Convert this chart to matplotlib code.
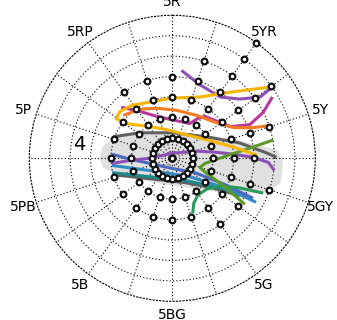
import numpy as np
import matplotlib
matplotlib.use("Agg")
import matplotlib.pyplot as plt

# hue names every 36 deg, clockwise from top
hue_labels = ["5R", "5YR", "5Y", "5GY", "5G", "5BG", "5B", "5PB", "5P", "5RP"]

# max chroma reached by the sample grid for each of the 20 hues (18 deg apart)
max_chroma = [8, 10, 14, 12, 10, 8, 10, 8, 8, 6, 6, 6, 6, 6, 6, 6, 6, 6, 8, 8]
inner_count = 24   # samples on the chroma-2 ring

# curves, given as (x, y) chroma components
gold_x = [9.7, 5.9, 2.7, 0.0, -2.2, -3.9, -5.1, -5.5, -4.5, -2.2, -0.5, 1.4, 3.4, 6.0, 8.3]
gold_y = [7.0, 6.5, 6.0, 5.9, 5.5, 5.2, 4.6, 3.9, 3.4, 3.1, 2.8, 2.3, 1.8, 1.1, 0.3]
purple_top_x = [0.9, 2.7, 4.7, 6.6, 8.6, 9.7]
purple_top_y = [8.6, 7.2, 6.0, 5.8, 6.0, 6.9]
orange_x = [-4.8, -3.2, -1.5, 0.4, 2.4, 4.0, 6.0, 7.9, 9.5]
orange_y = [4.2, 4.8, 4.9, 4.7, 4.2, 3.6, 3.0, 3.0, 3.2]
magenta_x = [-5.0, -3.2, -1.5, 0.3, 1.7, 2.5, 3.2, 4.2, 5.7, 7.6, 8.9, 9.8]
magenta_y = [5.0, 4.6, 4.1, 3.7, 3.4, 3.9, 4.1, 3.7, 3.1, 3.3, 4.5, 6.0]
gray_top_x = [-5.8, -3.2, 0.0, 3.4, 6.6, 9.3, 10.2]
gray_top_y = [2.1, 2.5, 2.5, 2.1, 1.5, 0.5, 0.1]
gray_bot_x = [-5.8, -2.2, 1.4, 4.4, 6.6]
gray_bot_y = [-1.6, -2.0, -2.4, -3.0, -3.7]
purple_x = [-5.9, -4.1, -2.2, 0.0, 2.4, 4.2, 6.0, 7.9, 9.4, 10.0]
purple_y = [-0.5, -0.2, 0.0, 0.5, 0.7, 0.6, 0.4, 0.1, -0.4, -1.2]
blue_x = [-5.9, -4.1, -2.2, 0.0, 2.2, 5.0, 7.9]
blue_y = [0.4, -0.1, -0.5, -1.0, -1.4, -2.5, -3.9]
sky_x = [-5.9, -2.2, 1.7, 5.2, 8.2]
sky_y = [-0.7, -1.2, -1.8, -2.9, -4.3]
teal_x = [-5.9, -2.2, 1.4, 4.2, 6.6]
teal_y = [-1.4, -1.8, -2.2, -2.8, -3.4]
olive_x = [9.9, 7.6, 5.2, 3.2, 2.7, 3.4, 4.9, 7.1]
olive_y = [1.8, 1.0, 0.2, -0.5, -0.9, -1.5, -2.6, -4.5]
green_x = [2.0, 2.1, 2.5, 3.4, 4.7, 6.6, 8.9]
green_y = [-5.4, -4.4, -3.6, -3.0, -2.7, -2.9, -3.4]

# shaded region outline
region_x = [-7.1, -6.8, -5.4, 0.1, 6.0, 10.3, 10.8, 10.8, 10.6, 9.3, 6.0, -0.5, -5.1, -6.8]
region_y = [0.0, 1.2, 2.2, 2.5, 1.9, 0.8, -0.2, -1.2, -2.4, -3.4, -3.5, -2.6, -1.7, -0.9]

curves = [
    (gray_top_x, gray_top_y, "#606060"),
    (gray_bot_x, gray_bot_y, "#606060"),
    (teal_x, teal_y, "#1b8a8c"),
    (sky_x, sky_y, "#2f8cc4"),
    (blue_x, blue_y, "#4a68c4"),
    (purple_x, purple_y, "#8e4fb5"),
    (green_x, green_y, "#2a9a5a"),
    (olive_x, olive_y, "#5a9a26"),
    (purple_top_x, purple_top_y, "#8e4fb5"),
    (magenta_x, magenta_y, "#b8389e"),
    (orange_x, orange_y, "#f47b20"),
    (gold_x, gold_y, "#f7b500"),
]

RMAX = 14
fig = plt.figure(figsize=(3.37, 3.2), dpi=100)
box = [0.0869, 0.0584, 0.8487, 0.8938]

# bottom: shaded region
ax_fill = fig.add_axes(box)
ax_fill.fill(region_x, region_y, color="#e0e0e0", lw=0)
ax_fill.set_xlim(-RMAX, RMAX)
ax_fill.set_ylim(-RMAX, RMAX)
ax_fill.axis("off")

# middle: polar grid
ax = fig.add_axes(box, projection="polar")
ax.patch.set_alpha(0)
ax.set_theta_zero_location("N")
ax.set_theta_direction(-1)
ax.set_ylim(0, RMAX)
ax.set_thetagrids(np.arange(0, 360, 18), labels=[])
ax.set_rgrids(np.arange(2, RMAX, 2), labels=[])
ax.grid(True, color="black", linestyle=(0, (1, 2)), linewidth=0.8)
ax.spines["polar"].set_linestyle((0, (1, 2)))
ax.spines["polar"].set_linewidth(0.8)

for i, lab in enumerate(hue_labels):
    ax.text(np.deg2rad(36 * i), 15.3, lab, ha="center", va="center",
            fontsize=10, family=["Liberation Sans Narrow", "DejaVu Sans"])

# top: curves and sample markers
ax_top = fig.add_axes(box)
ax_top.set_xlim(-RMAX, RMAX)
ax_top.set_ylim(-RMAX, RMAX)
ax_top.axis("off")

for cx, cy, col in curves:
    ax_top.plot(cx, cy, color=col, lw=2.2, solid_capstyle="butt", solid_joinstyle="round")

mx, my = [0.0], [0.0]
for k in range(inner_count):
    t = np.deg2rad(360 / inner_count * k)
    mx.append(2 * np.sin(t))
    my.append(2 * np.cos(t))
for i, cmax in enumerate(max_chroma):
    t = np.deg2rad(18 * i)
    for c in range(4, cmax + 1, 2):
        mx.append(c * np.sin(t))
        my.append(c * np.cos(t))
ax_top.plot(mx, my, "o", ms=4.1, mfc="white", mec="#111111", mew=1.6, ls="none")

ax_top.text(-9.1, 1.35, "4", ha="center", va="center", fontsize=14,
            family=["Liberation Sans Narrow", "DejaVu Sans"])

fig.savefig("out.png", dpi=100)
